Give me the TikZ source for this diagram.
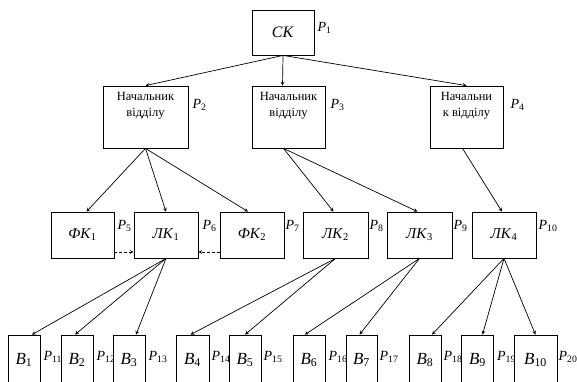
\documentclass[tikz,border=0pt]{standalone}
\usepackage{fontspec}
\setmainfont{Liberation Serif}
\usetikzlibrary{positioning}

\newcommand{\ix}[2]{\textit{#1}\textsubscript{#2}}

\begin{document}
\begin{tikzpicture}[
    x=1pt, y=-1pt,
    >=stealth,
    % nodes
    base/.style={rectangle, draw=black, line width=0.8pt, fill=white, inner sep=0pt},
    topbox/.style={base, minimum width=62pt, minimum height=45pt, font=\fontsize{16}{18}\selectfont},
    headbox/.style={base, minimum height=62pt},
    headtext/.style={anchor=north, align=center, inner sep=0pt, yshift=-7pt, font=\fontsize{12.5}{16}\selectfont},
    midbox/.style={base, minimum width=64pt, minimum height=46pt, font=\fontsize{15}{18}\selectfont},
    lowbox/.style={base, minimum width=32pt, minimum height=50pt, font=\fontsize{17}{20}\selectfont},
    plbl/.style={inner sep=0pt, font=\fontsize{14}{16}\selectfont},
    % arrows
    dep/.style={black, line width=0.7pt},
    side/.style={black, line width=0.7pt, densely dashed}
  ]

  \path[use as bounding box] (0,0) rectangle (577,381);
  \clip (0,0) rectangle (577,381);

  \node (ck)    [topbox] at (283,32.5)                {\textit{СК}};
  \node (p1)    [plbl, right=3pt of ck.east, yshift=5pt]  {\ix{P}{1}};

  \node (head1) [headbox, minimum width=85pt,
                 label={[headtext]north:{Начальник\\відділу}}]   at (145.5,117) {};
  \node (head2) [headbox, minimum width=73pt,
                 label={[headtext]north:{Начальник\\відділу}}]   at (288.5,117) {};
  \node (head3) [headbox, minimum width=73pt,
                 label={[headtext]north:{Начальни\\к відділу}}] at (466.5,117) {};
  \node (p2)    [plbl, right=4pt of head1.east, yshift=12pt] {\ix{P}{2}};
  \node (p3)    [plbl, right=5pt of head2.east, yshift=12pt] {\ix{P}{3}};
  \node (p4)    [plbl, right=7pt of head3.east, yshift=12pt] {\ix{P}{4}};

  \node (fk1)   [midbox, minimum width=63pt] at (82.5,235)  {\ix{ФК}{1}};
  \node (lk1)   [midbox]                     at (166,235)   {\ix{ЛК}{1}};
  \node (fk2)   [midbox]                     at (252,235)   {\ix{ФК}{2}};
  \node (lk2)   [midbox, minimum width=65pt] at (335.5,235) {\ix{ЛК}{2}};
  \node (lk3)   [midbox, minimum width=65pt] at (419.5,235) {\ix{ЛК}{3}};
  \node (lk4)   [midbox]                     at (504,235)   {\ix{ЛК}{4}};
  \node (p5)    [plbl, right=3pt of fk1.east, yshift=9pt] {\ix{P}{5}};
  \node (p6)    [plbl, right=4pt of lk1.east, yshift=9pt] {\ix{P}{6}};
  \node (p7)    [plbl, right=1pt of fk2.east, yshift=9pt] {\ix{P}{7}};
  \node (p8)    [plbl, right=1pt of lk2.east, yshift=9pt] {\ix{P}{8}};
  \node (p9)    [plbl, right=1pt of lk3.east, yshift=9pt] {\ix{P}{9}};
  \node (p10)   [plbl, right=2pt of lk4.east, yshift=9pt] {\ix{P}{10}};

  % lower row: each box is drawn over the label of its left neighbour
  \node (b1)    [lowbox] at (24,360)    {\ix{В}{1}};
  \node (p11)   [plbl, right=3pt of b1.east, yshift=3pt]  {\ix{P}{11}};
  \node (b2)    [lowbox] at (77,360)    {\ix{В}{2}};
  \node (p12)   [plbl, right=3pt of b2.east, yshift=3pt]  {\ix{P}{12}};
  \node (b3)    [lowbox] at (129,360)   {\ix{В}{3}};
  \node (p13)   [plbl, right=3pt of b3.east, yshift=3pt]  {\ix{P}{13}};
  \node (b4)    [lowbox, minimum width=33pt] at (192.5,360) {\ix{В}{4}};
  \node (p14)   [plbl, right=2pt of b4.east, yshift=3pt]  {\ix{P}{14}};
  \node (b5)    [lowbox] at (245,360)   {\ix{В}{5}};
  \node (p15)   [plbl, right=2pt of b5.east, yshift=3pt]  {\ix{P}{15}};
  \node (b6)    [lowbox] at (309,360)   {\ix{В}{6}};
  \node (p16)   [plbl, right=3pt of b6.east, yshift=3pt]  {\ix{P}{16}};
  \node (b7)    [lowbox, minimum width=31pt] at (361.5,360) {\ix{В}{7}};
  \node (p17)   [plbl, right=2pt of b7.east, yshift=3pt]  {\ix{P}{17}};
  \node (b8)    [lowbox] at (425,360)   {\ix{В}{8}};
  \node (p18)   [plbl, right=2pt of b8.east, yshift=3pt]  {\ix{P}{18}};
  \node (b9)    [lowbox] at (477.5,360) {\ix{В}{9}};
  \node (p19)   [plbl, right=3pt of b9.east, yshift=3pt]  {\ix{P}{19}};
  \node (b10)   [lowbox, minimum width=43pt] at (535.5,360) {\ix{В}{10}};
  \node (p20)   [plbl, right=1pt of b10.east, yshift=3pt] {\ix{P}{20}};

  \path[->,dep]  (ck.south)     edge                        (head1.north)
                                edge                        ([xshift=-6pt]head2.north)
                                edge                        (head3.north);

  \path[->,dep]  (head1.south)  edge                        ([xshift=4pt]fk1.north)
                                edge                        (lk1.north)
                                edge                        ([xshift=-4pt]fk2.north);

  \path[->,dep]  ([xshift=-5pt]head2.south)
                                edge                        ([xshift=-2pt]lk2.north)
                                edge                        ([xshift=-2pt]lk3.north);

  \path[->,dep]  ([xshift=-4pt]head3.south)
                                edge                        ([xshift=-2pt]lk4.north);

  \draw[->,side] ([yshift=-17pt]fk1.east) -- ([yshift=-17pt]lk1.west);
  \draw[->,side] ([yshift=-17pt]fk2.west) -- ([yshift=-17pt]lk1.east);

  \path[->,dep]  (lk1.south)    edge                        ([xshift=8pt]b1.north)
                                edge                        ([xshift=-2pt]b2.north)
                                edge                        ([xshift=7pt]b3.north);

  \path[->,dep]  (lk2.south)    edge                        ([xshift=-2pt]b4.north)
                                edge                        (b5.north);

  \path[->,dep]  (lk3.south)    edge                        ([xshift=-4pt]b6.north)
                                edge                        ([xshift=-2pt]b7.north);

  \path[->,dep]  (lk4.south)    edge                        ([xshift=7pt]b8.north)
                                edge                        ([xshift=5pt]b9.north)
                                edge                        (b10.north);
\end{tikzpicture}
\end{document}
